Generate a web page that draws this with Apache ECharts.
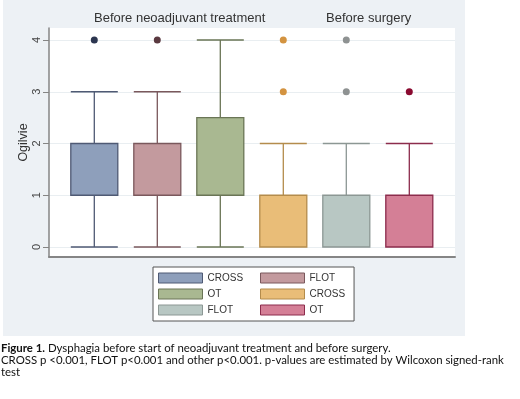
<!DOCTYPE html>
<html>
<head>
<meta charset="utf-8">
<script src="https://cdn.jsdelivr.net/npm/echarts@6/dist/echarts.min.js"></script>
<style>
  html, body { margin: 0; padding: 0; background: #ffffff; }
  #panel { position: absolute; left: 3px; top: 0; width: 462px; height: 336px; background: #edf1f5; }
  #chart { position: absolute; left: 0; top: 0; width: 520px; height: 399px; }
</style>
</head>
<body>
<div id="panel"></div>
<div id="chart"></div>
<script>
// ---- data ----
const groups = ['Before neoadjuvant treatment', 'Before surgery'];
const treatments = ['CROSS', 'FLOT', 'OT', 'CROSS', 'FLOT', 'OT'];
const groupOfBox = [0, 0, 0, 1, 1, 1];
const boxMin = [0, 0, 0, 0, 0, 0];
const boxQ1 = [1, 1, 1, 0, 0, 0];
const boxMedian = [1, 1, 1, 0, 0, 0];
const boxQ3 = [2, 2, 2.5, 1, 1, 1];
const boxMax = [3, 3, 4, 2, 2, 2];
const outliers = [[4], [4], [], [3, 4], [3, 4], [3]];
const yTicks = [0, 1, 2, 3, 4];
const yAxisName = 'Ogilvie';
const captionLines = [
  '{b|Figure 1.} Dysphagia before start of neoadjuvant treatment and before surgery.',
  'CROSS p <0.001, FLOT p<0.001 and other p<0.001. p-values are estimated by Wilcoxon signed-rank',
  'test'
];

// ---- styles ----
const fills = ['#8e9fbb', '#c39a9e', '#a9b891', '#e9bd78', '#b8c7c3', '#d47f96'];
const borders = ['#4f5a74', '#7a585c', '#6a7556', '#b48c4c', '#8c9794', '#8c2c4c'];
const outlierColors = ['#2c3650', '#5a3940', '#6a7556', '#d39340', '#8e9292', '#8a0a30'];
const FONT = '"Liberation Sans", Arial, sans-serif';
const CAPFONT = 'Lato, "Open Sans", sans-serif';

const names = treatments.map((t, i) => t + ' · ' + groups[groupOfBox[i]]);
const categories = names.slice();

const yMin = -0.193, yMax = 4.232;

const xAxes = [{
  gridIndex: 0, type: 'value', min: 0, max: 1,
  axisLine: { show: true, onZero: false, lineStyle: { color: '#858585', width: 2 } },
  axisTick: { show: false }, axisLabel: { show: false }, splitLine: { show: false }
}];
const series = [];
names.forEach((n, i) => {
  xAxes.push({ gridIndex: 1, type: 'category', data: categories, show: false });
  series.push({
    type: 'boxplot', name: n, xAxisIndex: i + 1, yAxisIndex: 1,
    boxWidth: [47, 47],
    encode: { x: 0, y: [1, 2, 3, 4, 5] },
    data: [[categories[i], boxMin[i], boxQ1[i], boxMedian[i], boxQ3[i], boxMax[i]]],
    itemStyle: { color: fills[i], borderColor: borders[i], borderWidth: 1.3 },
    emphasis: { disabled: true }, silent: true
  });
  series.push({
    type: 'scatter', name: n + ' (outliers)', xAxisIndex: i + 1, yAxisIndex: 1,
    symbolSize: 7,
    data: outliers[i].map(v => [categories[i], v]),
    itemStyle: { color: outlierColors[i], opacity: 1 },
    silent: true
  });
});

const legendItem = i => ({ name: names[i], itemStyle: { color: fills[i], borderColor: borders[i], borderWidth: 1 } });

const legendCommon = {
  orient: 'vertical', top: 267, itemWidth: 44, itemHeight: 10, itemGap: 4,
  icon: 'rect',
  textStyle: { fontSize: 10, lineHeight: 12, color: '#333', fontFamily: FONT },
  formatter: n => n.split(' · ')[0],
  selectedMode: false
};

const option = {
  animation: false,
  backgroundColor: 'transparent',
  textStyle: { fontFamily: FONT },
  title: [
    { text: groups[0], left: 94, top: 12, padding: 0, textStyle: { fontSize: 13, fontWeight: 'normal', color: '#333', fontFamily: FONT } },
    { text: groups[1], left: 326, top: 12, padding: 0, textStyle: { fontSize: 13, fontWeight: 'normal', color: '#333', fontFamily: FONT } },
    { text: captionLines.join('\n'), left: 1, top: 342, padding: 0,
      textStyle: { fontSize: 11.4, lineHeight: 12, fontWeight: 'normal', color: '#111', fontFamily: CAPFONT,
        rich: { b: { fontSize: 11.4, lineHeight: 12, fontWeight: 'bold', color: '#111', fontFamily: CAPFONT } } } }
  ],
  grid: [
    { left: 49, right: 65, top: 28, bottom: 142, show: true, backgroundColor: '#ffffff', borderWidth: 0 },
    { left: 62.8, right: 79.2, top: 28, bottom: 142 }
  ],
  xAxis: xAxes,
  yAxis: [
    { gridIndex: 0, type: 'value', min: yMin, max: yMax,
      name: yAxisName, nameLocation: 'middle', nameRotate: 90, nameGap: 19, nameMoveOverlap: false,
      nameTextStyle: { fontSize: 12.5, color: '#333', fontFamily: FONT },
      axisLine: { show: true, onZero: false, lineStyle: { color: '#858585', width: 1.5 } },
      axisTick: { show: true, customValues: yTicks, length: 6, lineStyle: { color: '#858585' } },
      axisLabel: { customValues: yTicks, rotate: 90, margin: 7, fontSize: 11, color: '#444' },
      splitLine: { show: true, lineStyle: { color: '#e9eef1', width: 1 } }
    },
    { gridIndex: 1, type: 'value', min: yMin, max: yMax, show: false, splitLine: { show: false } }
  ],
  legend: [
    Object.assign({}, legendCommon, {
      left: 153, data: [legendItem(0), legendItem(2), legendItem(4)],
      padding: [5, 111, 5, 5], borderColor: '#555', borderWidth: 1, backgroundColor: '#fff'
    }),
    Object.assign({}, legendCommon, {
      left: 255, z: 10, data: [legendItem(1), legendItem(3), legendItem(5)], padding: 5
    })
  ],
  series: series
};

const chart = echarts.init(document.getElementById('chart'), null, { renderer: 'canvas' });
chart.setOption(option);
</script>
</body>
</html>
